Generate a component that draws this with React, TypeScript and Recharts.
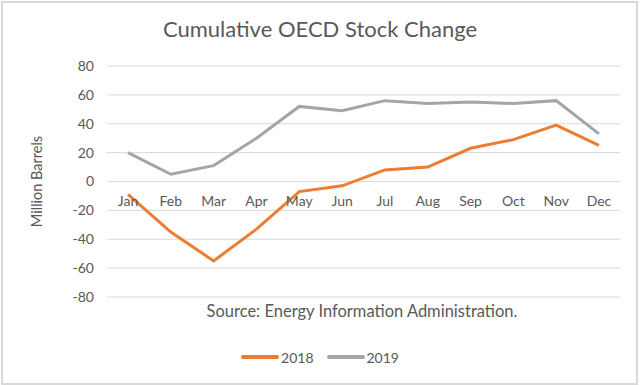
import { CartesianGrid, Legend, Line, LineChart, XAxis, YAxis } from "recharts";

const months = ["Jan", "Feb", "Mar", "Apr", "May", "Jun", "Jul", "Aug", "Sep", "Oct", "Nov", "Dec"];
const stock2018 = [-9, -35, -55, -33, -7, -3, 8, 10, 23, 29, 39, 25];
const stock2019 = [20, 5, 11, 30, 52, 49, 56, 54, 55, 54, 56, 33];
const yTicks = [-80, -60, -40, -20, 0, 20, 40, 60, 80];

const data = months.map((m, i) => ({ month: m, y2018: stock2018[i], y2019: stock2019[i] }));

const FONT = "Lato, 'Open Sans', sans-serif";
const TEXT = "#595959";
const TOP = 66;
const PLOT_H = 231;
const ZERO_Y = TOP + PLOT_H / 2;

// category labels sit just under the zero line, like Excel does
const MonthTick = (props: any) => {
  const { x, payload } = props;
  return (
    <text x={x} y={ZERO_Y + 24} textAnchor="middle" fill={TEXT} fontSize={14} fontFamily={FONT}>
      {payload.value}
    </text>
  );
};

const LegendContent = (props: any) => (
  <div style={{ display: "flex", justifyContent: "center", gap: 13, fontFamily: FONT, fontSize: 14, color: TEXT, height: 20, alignItems: "center" }}>
    {props.payload.map((p: any) => (
      <span key={p.value} style={{ display: "flex", alignItems: "center" }}>
        <span style={{ display: "inline-block", width: 38, height: 4, background: p.color, marginRight: 2, borderRadius: 2 }} />
        {p.value}
      </span>
    ))}
  </div>
);

export default function App() {
  return (
    <div style={{ position: "absolute", left: 0, top: 0, width: 640, height: 385, background: "#fff" }}>
      <div style={{ position: "absolute", left: 1, top: 1, width: 633, height: 380, border: "2px solid #d9d9d9" }} />
      <div style={{ position: "absolute", top: 15, width: 640, textAlign: "center", fontFamily: FONT, fontSize: 22, color: TEXT }}>
        Cumulative OECD Stock Change
      </div>
      <LineChart width={640} height={385} data={data} margin={{ top: TOP, right: 20, left: 0, bottom: 38 }}>
        <CartesianGrid vertical={false} stroke="#d9d9d9" />
        <XAxis dataKey="month" height={30} tickLine={false} axisLine={false} tick={<MonthTick />} padding={{ left: 21, right: 21 }} interval={0} />
        <YAxis
          width={107}
          domain={[-80, 80]}
          ticks={yTicks}
          tickLine={false}
          axisLine={false}
          tickMargin={7}
          tick={{ fill: TEXT, fontSize: 14, fontFamily: FONT }}
          label={{ value: "Million Barrels", angle: -90, position: "center", dx: -17, fill: TEXT, fontSize: 14.5, fontFamily: FONT }}
        />
        <Legend content={<LegendContent />} wrapperStyle={{ position: "absolute", top: 347, left: 0, width: 640 }} />
        <Line dataKey="y2018" name="2018" stroke="#ED7D31" strokeWidth={3} dot={false} isAnimationActive={false} />
        <Line dataKey="y2019" name="2019" stroke="#A5A5A5" strokeWidth={3} dot={false} isAnimationActive={false} />
      </LineChart>
      <div style={{ position: "absolute", top: 301, left: 0, width: 640, paddingLeft: 84, boxSizing: "border-box", textAlign: "center", fontFamily: FONT, fontSize: 16.5, color: TEXT }}>
        Source: Energy Information Administration.
      </div>
    </div>
  );
}
